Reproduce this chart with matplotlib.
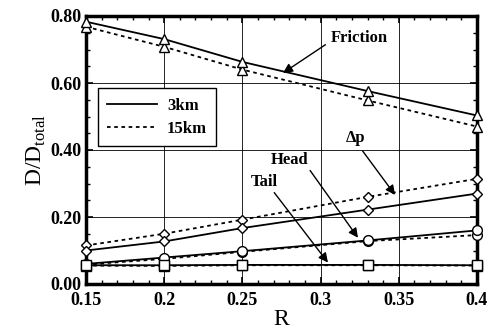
import matplotlib.pyplot as plt
from matplotlib.ticker import MultipleLocator
from matplotlib.lines import Line2D

R = [0.15, 0.2, 0.25, 0.33, 0.4]

friction_3 = [0.783, 0.731, 0.663, 0.576, 0.503]
friction_15 = [0.768, 0.708, 0.640, 0.548, 0.470]
dp_3 = [0.100, 0.127, 0.167, 0.222, 0.270]
dp_15 = [0.115, 0.150, 0.192, 0.260, 0.314]
head_3 = [0.060, 0.079, 0.098, 0.130, 0.160]
head_15 = [0.058, 0.075, 0.096, 0.128, 0.146]
tail_3 = [0.056, 0.056, 0.057, 0.057, 0.056]
tail_15 = [0.055, 0.054, 0.056, 0.056, 0.055]

plt.rcParams['font.family'] = 'Liberation Serif'
plt.rcParams['font.weight'] = 'bold'

fig = plt.figure(figsize=(4.89, 3.31), dpi=100)
ax = fig.add_axes([86 / 489, 47 / 331, 391 / 489, 268 / 331])

mk = dict(markerfacecolor='white', markeredgecolor='black', markeredgewidth=1.0,
          color='black', lw=1.3, clip_on=False, zorder=3)
series = [
    (friction_3, friction_15, '^', 7),
    (dp_3, dp_15, 'D', 5),
    (head_3, head_15, 'o', 7),
    (tail_3, tail_15, 's', 7),
]
for s3, s15, m, ms in series:
    ax.plot(R, s15, linestyle=(0, (2, 2)), marker=m, markersize=ms, **mk)
    ax.plot(R, s3, linestyle='-', marker=m, markersize=ms, **mk)

ax.set_xlim(0.15, 0.4)
ax.set_ylim(0, 0.8)
ax.xaxis.set_minor_locator(MultipleLocator(0.01))
ax.yaxis.set_major_locator(MultipleLocator(0.2))
ax.yaxis.set_minor_locator(MultipleLocator(0.05))
ax.set_xticks([0.15, 0.2, 0.25, 0.3, 0.35, 0.4])
ax.set_xticklabels(['0.15', '0.2', '0.25', '0.3', '0.35', '0.4'])
ax.set_yticks([0, 0.2, 0.4, 0.6, 0.8])
ax.set_yticklabels(['0.00', '0.20', '0.40', '0.60', '0.80'])
ax.tick_params(which='both', direction='in', top=True, right=True, labelsize=13)
ax.tick_params(which='major', length=5, width=1.2)
ax.tick_params(which='minor', length=3, width=1.0)
ax.tick_params(axis='x', which='major', pad=6)
ax.tick_params(axis='y', which='major', pad=3)
ax.grid(True, which='major', color='black', lw=0.6)
for sp in ax.spines.values():
    sp.set_linewidth(2.5)

ax.set_xlabel('R', fontsize=17, fontweight='normal', labelpad=0)
ax.set_ylabel(r'D/D$_{\mathregular{total}}$', fontsize=17, fontweight='normal', labelpad=2)

handles = [Line2D([], [], color='black', lw=1.3),
           Line2D([], [], color='black', lw=1.3, linestyle=(0, (2, 2)))]
leg = ax.legend(handles, ['3km', '15km'], loc='upper left', bbox_to_anchor=(0.03, 0.73),
                borderaxespad=0, fancybox=False, edgecolor='black', framealpha=1,
                fontsize=12, handlelength=3.0, borderpad=0.55, labelspacing=0.45,
                handletextpad=0.6)
leg.get_frame().set_linewidth(1.0)

arrow = dict(arrowstyle='-|>', color='black', lw=1.0, mutation_scale=14)
ax.annotate('Friction', xy=(0.276, 0.630), xytext=(0.3246, 0.734), fontsize=12,
            ha='center', va='center', arrowprops=dict(arrow, relpos=(0.0, 0.3), shrinkA=2, shrinkB=0))
ax.annotate('Δp', xy=(0.3476, 0.266), xytext=(0.322, 0.436), fontsize=12,
            ha='center', va='center', arrowprops=dict(arrow, relpos=(0.7, 0.0), shrinkA=2, shrinkB=0))
ax.annotate('Head', xy=(0.3239, 0.138), xytext=(0.280, 0.371), fontsize=12,
            ha='center', va='center', arrowprops=dict(arrow, relpos=(1.0, 0.0), shrinkA=0, shrinkB=0))
ax.annotate('Tail', xy=(0.3047, 0.064), xytext=(0.2638, 0.305), fontsize=12,
            ha='center', va='center', arrowprops=dict(arrow, relpos=(0.8, 0.0), shrinkA=0, shrinkB=0))

fig.savefig('out.png', dpi=100)
